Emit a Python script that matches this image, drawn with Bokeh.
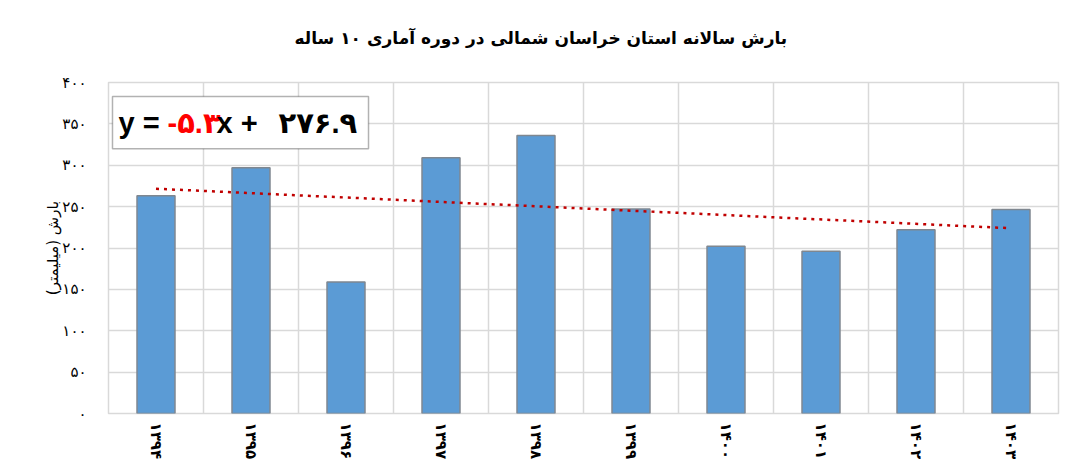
from bokeh.plotting import figure
from bokeh.models import Range1d, FixedTicker, BoxAnnotation, Label, Title
from bokeh.embed import file_html
from bokeh.resources import INLINE

# ---- data ----
years = ["۱۳۹۴", "۱۳۹۵", "۱۳۹۶", "۱۳۹۷", "۱۳۹۸", "۱۳۹۹", "۱۴۰۰", "۱۴۰۱", "۱۴۰۲", "۱۴۰۳"]
rainfall = [263, 297, 159, 309, 336, 247, 202, 196, 222, 246.5]
y_ticks = [0, 50, 100, 150, 200, 250, 300, 350, 400]
y_tick_labels = ["۰", "۵۰", "۱۰۰", "۱۵۰", "۲۰۰", "۲۵۰", "۳۰۰", "۳۵۰", "۴۰۰"]
trend_slope = -5.3
trend_intercept = 276.9
title_text = "بارش سالانه استان خراسان شمالی در دوره آماری ۱۰ ساله"
y_label_text = "بارش (میلیمتر)"
eq_parts = ["y =", "-۵.۳", "x +", "۲۷۶.۹"]
eq_colors = ["#000000", "#FF0000", "#000000", "#000000"]

x_pos = list(range(1, len(years) + 1))
FONT = "DejaVu Sans"
GRID = "#D9D9D9"

p = figure(width=1078, height=474, output_backend="svg", toolbar_location=None,
           x_range=Range1d(0.5, len(years) + 0.5), y_range=Range1d(0, 400),
           min_border_left=108, min_border_right=20, min_border_top=82, min_border_bottom=61,
           title=title_text)
p.title.align = "left"
p.title.offset = 186
p.title.vertical_align = "top"
p.title.standoff = 54
p.title.text_font = FONT
p.title.text_font_style = "bold"
p.title.text_font_size = "17px"
p.title.text_color = "#000000"
# thin spacer between title and plot area
p.add_layout(Title(text=" ", text_font_size="2px", standoff=2), "above")

p.outline_line_color = GRID
p.outline_line_width = 1.5
p.background_fill_color = "white"
p.border_fill_color = "white"

# grids
p.ygrid.ticker = FixedTicker(ticks=y_ticks)
p.ygrid.grid_line_color = GRID
p.ygrid.grid_line_width = 1.5
p.xgrid.ticker = FixedTicker(ticks=[x + 0.5 for x in x_pos[:-1]])
p.xgrid.grid_line_color = GRID
p.xgrid.grid_line_width = 1.5

# axes
p.yaxis.ticker = FixedTicker(ticks=y_ticks)
p.yaxis.major_label_overrides = {t: l for t, l in zip(y_ticks, y_tick_labels)}
p.yaxis.axis_line_color = None
p.yaxis.major_tick_line_color = None
p.yaxis.minor_tick_line_color = None
p.yaxis.major_label_standoff = 16
p.yaxis.major_label_text_font = FONT
p.yaxis.major_label_text_font_size = "15px"
p.yaxis.major_label_text_color = "#000000"
p.yaxis.axis_label = y_label_text
p.yaxis.axis_label_text_font = FONT
p.yaxis.axis_label_text_font_style = "normal"
p.yaxis.axis_label_text_font_size = "15px"
p.yaxis.axis_label_standoff = -3
p.yaxis.axis_label_text_color = "#000000"

p.xaxis.ticker = FixedTicker(ticks=x_pos)
p.xaxis.major_label_overrides = {x: y for x, y in zip(x_pos, years)}
p.xaxis.axis_line_color = None
p.xaxis.major_tick_line_color = None
p.xaxis.minor_tick_line_color = None
p.xaxis.major_label_orientation = "vertical"
p.xaxis.major_label_standoff = 3
p.xaxis.major_label_text_font = FONT
p.xaxis.major_label_text_font_style = "bold"
p.xaxis.major_label_text_font_size = "15px"
p.xaxis.major_label_text_color = "#000000"

# bars
p.vbar(x=x_pos, top=rainfall, bottom=0, width=0.4,
       fill_color="#5B9BD5", line_color="#7F8790", line_width=1.5)

# trend line from the equation coefficients
trend_x = [x_pos[0], x_pos[-1]]
trend_y = [trend_intercept + trend_slope * x for x in trend_x]
p.line(trend_x, trend_y, line_color="#C00000", line_width=2.5, line_dash="3 5")

# equation box
p.add_layout(BoxAnnotation(left=0.542, right=3.237, bottom=320, top=383,
                           fill_color="white", fill_alpha=1.0,
                           line_color="black", line_width=1.5))
eq_x = [0.605, 1.121, 1.637, 2.289]
for part, col, ex in zip(eq_parts, eq_colors, eq_x):
    p.add_layout(Label(x=ex, y=351.5, text=part, text_color=col,
                       text_font="'Liberation Sans', 'DejaVu Sans'",
                       text_font_style="bold", text_font_size="29px",
                       text_align="left", text_baseline="middle"))

open("out.html", "w").write(file_html(p, INLINE))
